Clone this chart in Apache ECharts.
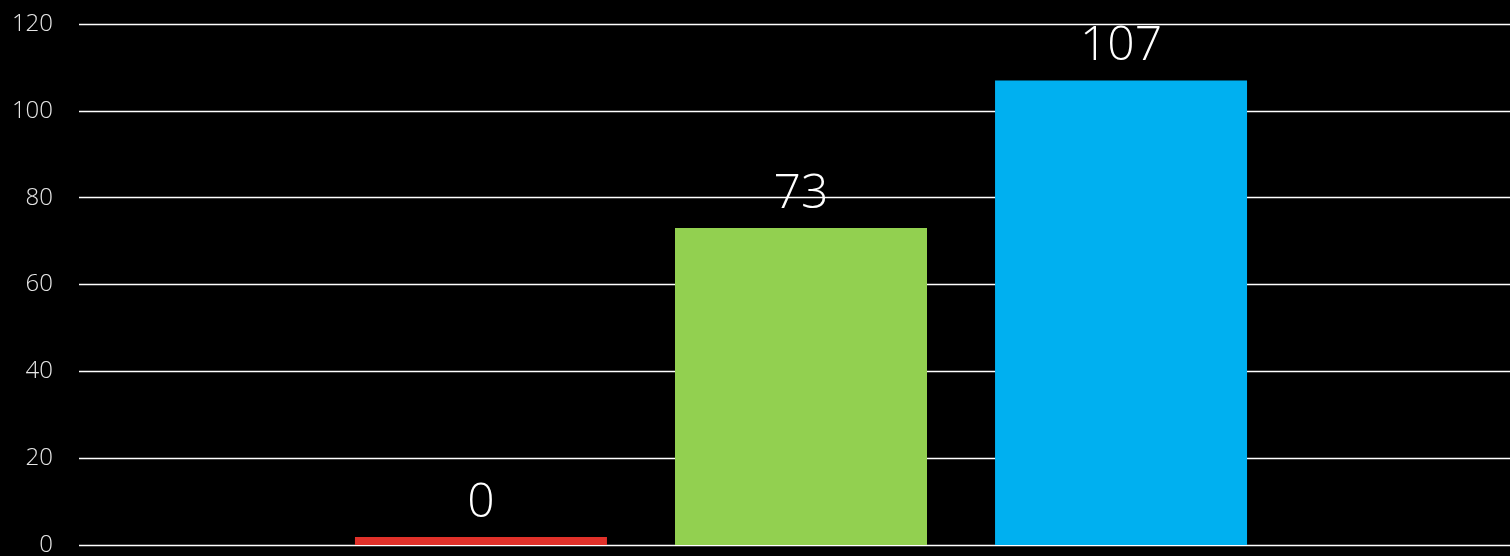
<!DOCTYPE html>
<html><head><meta charset="utf-8">
<script src="https://cdn.jsdelivr.net/npm/echarts@6/dist/echarts.min.js"></script>
<style>html,body{margin:0;padding:0;background:#000;}#c{width:1510px;height:556px;}</style>
</head><body><div id="c"></div>
<script>
const categories = [''];
const seriesNames = ['A', 'B', 'C'];
const seriesValues = [[0], [73], [107]];
const seriesColors = ['#e1312a', '#92d050', '#00b0f0'];
const yTicks = { min: 0, max: 120, interval: 20 };

const chart = echarts.init(document.getElementById('c'));
chart.setOption({
  backgroundColor: '#000',
  animation: false,
  grid: { left: 79, right: -13, top: 24, bottom: 11, outerBoundsMode: 'none', containLabel: false },
  xAxis: {
    type: 'category', data: categories,
    axisLine: { show: false }, axisTick: { show: false }, axisLabel: { show: false }
  },
  yAxis: {
    type: 'value', min: yTicks.min, max: yTicks.max, interval: yTicks.interval,
    axisLine: { show: false }, axisTick: { show: false },
    axisLabel: { color: '#e6e6e6', fontSize: 24, fontFamily: 'Open Sans', fontWeight: 300, margin: 26 },
    splitLine: { lineStyle: { color: '#ffffff', width: 1.3 } }
  },
  series: seriesNames.map((n, i) => ({
    name: n, type: 'bar', data: seriesValues[i],
    barWidth: 252, barGap: '27%', barMinHeight: 8,
    itemStyle: { color: seriesColors[i] },
    label: { show: true, position: 'top', distance: 10, color: '#fff', fontSize: 48, fontFamily: 'Open Sans', fontWeight: 300 }
  }))
});
</script></body></html>
